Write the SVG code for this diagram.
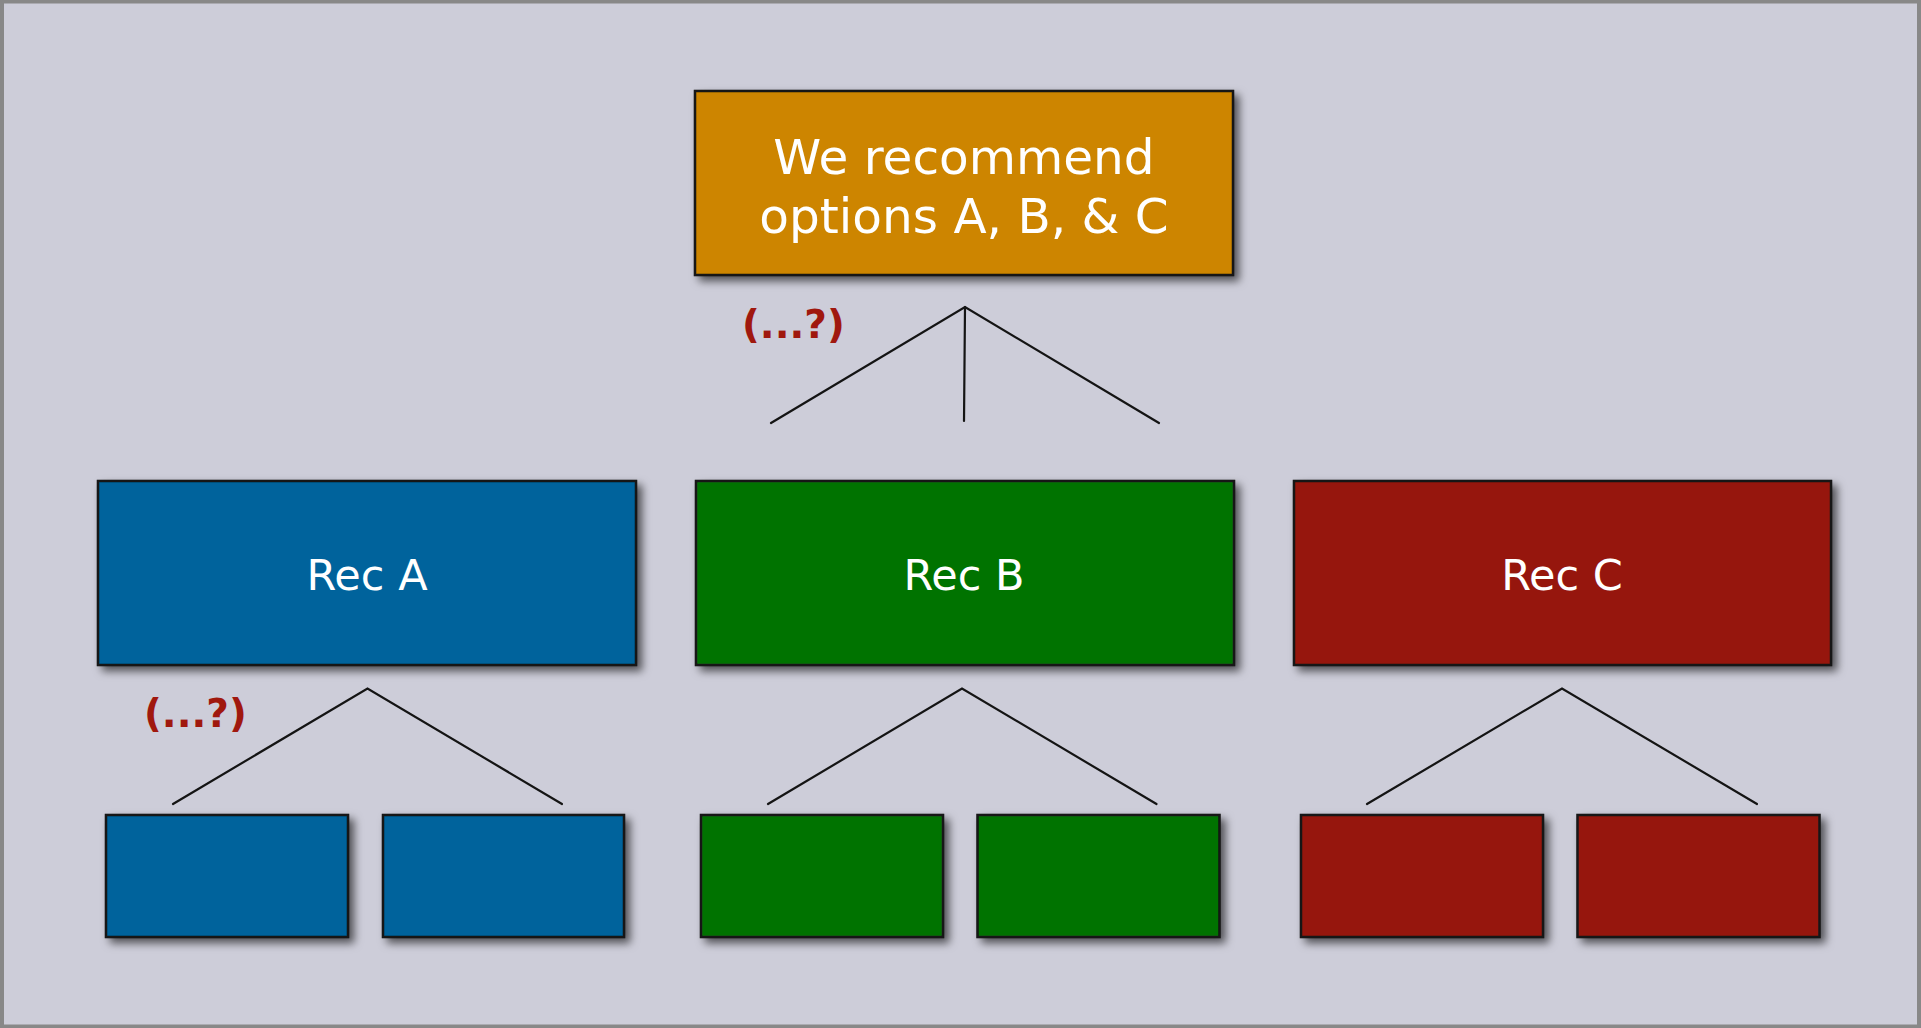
<svg xmlns="http://www.w3.org/2000/svg" width="1921" height="1028" viewBox="0 0 1921 1028">
<defs>
<filter id="sh" x="-10%" y="-10%" width="130%" height="140%">
<feDropShadow dx="5" dy="5" stdDeviation="4.5" flood-color="#000" flood-opacity="0.6"/>
</filter>
<style>
.box{stroke:#151515;stroke-width:2.5;filter:url(#sh)}
.org{fill:#cd8500}
.blu{fill:#00649c}
.grn{fill:#037303}
.red{fill:#96180f}
.t{font-family:"DejaVu Sans","Liberation Sans",sans-serif;fill:#ffffff;text-anchor:middle}
.q{font-family:"DejaVu Sans","Liberation Sans",sans-serif;font-weight:bold;fill:#a0180e;font-size:39px}
.ln{stroke:#141414;stroke-width:2.2;fill:none;stroke-linecap:round;stroke-linejoin:miter}
</style>
</defs>
<rect x="2" y="1.5" width="1917" height="1025" fill="#cdcdd9" stroke="#888888" stroke-width="4"/>

<g id="top">
<rect class="box org" x="695" y="91" width="538" height="184"/>
<text class="t" x="964" y="174" font-size="48.5">We recommend</text>
<text class="t" x="964" y="233" font-size="48.5">options A, B, &amp; C</text>
</g>

<g id="recA">
<rect class="box blu" x="98" y="481" width="538" height="184"/>
<text class="t" x="367" y="590" font-size="43">Rec A</text>
</g>
<g id="recB">
<rect class="box grn" x="696" y="481" width="538" height="184"/>
<text class="t" x="964" y="590" font-size="43">Rec B</text>
</g>
<g id="recC">
<rect class="box red" x="1294" y="481" width="537" height="184"/>
<text class="t" x="1562" y="590" font-size="43">Rec C</text>
</g>

<g id="a1"><rect class="box blu" x="106" y="815" width="242" height="122"/></g>
<g id="a2"><rect class="box blu" x="383" y="815" width="241" height="122"/></g>
<g id="b1"><rect class="box grn" x="701" y="815" width="242" height="122"/></g>
<g id="b2"><rect class="box grn" x="977.5" y="815" width="242" height="122"/></g>
<g id="c1"><rect class="box red" x="1301" y="815" width="242" height="122"/></g>
<g id="c2"><rect class="box red" x="1577.5" y="815" width="242" height="122"/></g>

<g id="connectors">
<polyline class="ln" points="771,423 965,307 1159,423"/>
<line class="ln" x1="965" y1="307" x2="964" y2="421"/>
<polyline class="ln" points="173,804 367.5,688.5 562,804"/>
<polyline class="ln" points="768,804 962,688.5 1156.5,804"/>
<polyline class="ln" points="1367,804 1562,688.5 1757,804"/>
</g>

<g id="labels">
<text class="q" x="742" y="338">(...?)</text>
<text class="q" x="144" y="727">(...?)</text>
</g>
</svg>
